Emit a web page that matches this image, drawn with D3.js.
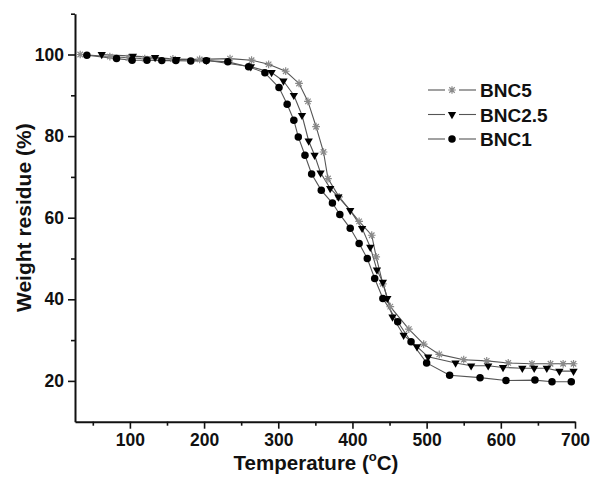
<!DOCTYPE html>
<html>
<head>
<meta charset="utf-8">
<script src="https://cdn.jsdelivr.net/npm/d3@7"></script>
<style>
  body { margin: 0; background: #fff; }
  text { font-family: "Liberation Sans", Arial, sans-serif; font-weight: bold; fill: #111; }
</style>
</head>
<body>
<svg id="chart" width="593" height="480"></svg>
<script>
// Embedded data
const seriesNames = ["BNC5", "BNC2.5", "BNC1"];

const bnc5Temp = [33, 73, 98, 120, 158, 194, 235, 264, 287, 310, 328, 340, 351, 361, 367, 382, 409, 426, 432, 441, 451, 476, 496, 517, 550, 581, 610, 642, 667, 684, 698];
const bnc5Weight = [100, 99.5, 99.2, 99.0, 98.9, 98.8, 99.0, 98.6, 97.6, 95.9, 92.9, 88.5, 82.3, 76.1, 69.6, 65.1, 59.1, 55.7, 50.4, 43.8, 38.2, 32.7, 29.0, 26.5, 25.2, 24.9, 24.4, 24.2, 24.2, 24.2, 24.2];

const bnc25Temp = [62, 104, 134, 163, 203, 263, 291, 307, 321, 332, 341, 349, 357, 370, 381, 397, 413, 424, 433, 441, 447, 454, 469, 487, 502, 539, 560, 583, 603, 629, 645, 662, 679, 698];
const bnc25Weight = [100, 99.6, 99.3, 98.8, 98.6, 97.0, 95.6, 93.5, 90.0, 85.1, 78.8, 75.3, 71.0, 67.2, 65.1, 61.8, 57.4, 52.8, 47.2, 44.2, 40.2, 35.7, 31.2, 28.4, 25.9, 24.4, 23.7, 23.7, 23.3, 23.1, 23.1, 23.1, 22.4, 22.4];

const bnc1Temp = [42, 82, 103, 123, 143, 162, 182, 203, 232, 260, 282, 301, 312, 321, 327, 336, 345, 358, 373, 383, 397, 409, 420, 430, 441, 461, 479, 500, 531, 572, 607, 646, 669, 695];
const bnc1Weight = [99.8, 99.0, 98.6, 98.6, 98.5, 98.5, 98.4, 98.5, 98.2, 97.0, 95.5, 91.9, 87.8, 83.9, 79.8, 75.3, 70.7, 66.7, 63.6, 60.8, 57.4, 53.7, 50.0, 45.1, 40.2, 34.5, 29.6, 24.4, 21.4, 20.8, 20.1, 20.2, 19.8, 19.8];

const xMajor = [100, 200, 300, 400, 500, 600, 700];
const xMinor = [50, 150, 250, 350, 450, 550, 650];
const yMajor = [20, 40, 60, 80, 100];
const yMinor = [30, 50, 70, 90, 110];

const svg = d3.select('#chart');

const x = d3.scaleLinear().domain([26, 700]).range([75, 575]);
const y = d3.scaleLinear().domain([10, 110]).range([421.7, 13.7]);

// custom asterisk symbol
const asterisk = {
  draw(ctx, size) {
    const r = Math.sqrt(size) / 2;
    for (let k = 0; k < 4; k++) {
      const a = k * Math.PI / 4;
      ctx.moveTo(-r * Math.cos(a), -r * Math.sin(a));
      ctx.lineTo(r * Math.cos(a), r * Math.sin(a));
    }
  }
};

const series = [
  { name: seriesNames[0], temp: bnc5Temp, weight: bnc5Weight, symbol: asterisk, size: 60, fill: 'none', stroke: '#8a8a8a', rotate: 0 },
  { name: seriesNames[1], temp: bnc25Temp, weight: bnc25Weight, symbol: d3.symbolTriangle, size: 30, fill: '#000', stroke: 'none', rotate: 180 },
  { name: seriesNames[2], temp: bnc1Temp, weight: bnc1Weight, symbol: d3.symbolCircle, size: 44, fill: '#000', stroke: 'none', rotate: 0 }
];

// axes
svg.append('g').attr('transform', `translate(0,${y.range()[0]})`)
  .call(d3.axisBottom(x).tickValues(xMajor).tickSize(7).tickPadding(5).tickSizeOuter(0));
svg.append('g').attr('transform', `translate(0,${y.range()[0]})`)
  .call(d3.axisBottom(x).tickValues(xMinor).tickSize(4).tickFormat('').tickSizeOuter(0))
  .select('.domain').remove();

svg.append('g').attr('transform', `translate(${x.range()[0]},0)`)
  .call(d3.axisLeft(y).tickValues(yMajor).tickSize(7).tickPadding(4).tickSizeOuter(0));
svg.append('g').attr('transform', `translate(${x.range()[0]},0)`)
  .call(d3.axisLeft(y).tickValues(yMinor).tickSize(4).tickFormat('').tickSizeOuter(0))
  .select('.domain').remove();

svg.selectAll('.domain').attr('stroke', '#111').attr('stroke-width', 2);
svg.selectAll('.tick line').attr('stroke', '#111').attr('stroke-width', 1.6);
svg.selectAll('.tick text').style('font-size', '17.5px').attr('fill', '#111');

// axis titles
const xt = svg.append('text').attr('x', 316).attr('y', 470).attr('text-anchor', 'middle').style('font-size', '20.5px');
xt.append('tspan').text('Temperature (');
xt.append('tspan').text('o').style('font-size', '13px').attr('dy', -9);
xt.append('tspan').text('C)').attr('dy', 9);

svg.append('text')
  .attr('transform', `translate(31,${(y.range()[0] + y.range()[1]) / 2}) rotate(-90)`)
  .attr('text-anchor', 'middle').style('font-size', '21px')
  .text('Weight residue (%)');

// lines and markers
const line = d3.line().x(d => x(d[0])).y(d => y(d[1]));

series.forEach(s => {
  const pts = s.temp.map((t, i) => [t, s.weight[i]]);
  svg.append('path').datum(pts)
    .attr('d', line).attr('fill', 'none')
    .attr('stroke', '#555').attr('stroke-width', 1.1);
});

series.forEach(s => {
  const pts = s.temp.map((t, i) => [t, s.weight[i]]);
  const sym = d3.symbol().type(s.symbol).size(s.size);
  svg.append('g').selectAll('path').data(pts).join('path')
    .attr('transform', d => `translate(${x(d[0])},${y(d[1])}) rotate(${s.rotate})`)
    .attr('d', sym)
    .attr('fill', s.fill).attr('stroke', s.stroke).attr('stroke-width', 1.2);
});

// legend
const legend = svg.append('g');
series.forEach((s, i) => {
  const ly = 90 + i * 24.5;
  legend.append('line').attr('x1', 428).attr('x2', 445).attr('y1', ly).attr('y2', ly)
    .attr('stroke', '#555').attr('stroke-width', 1.1);
  legend.append('line').attr('x1', 459).attr('x2', 476).attr('y1', ly).attr('y2', ly)
    .attr('stroke', '#555').attr('stroke-width', 1.1);
  legend.append('path')
    .attr('transform', `translate(452,${ly}) rotate(${s.rotate})`)
    .attr('d', d3.symbol().type(s.symbol).size(s.size))
    .attr('fill', s.fill).attr('stroke', s.stroke).attr('stroke-width', 1.2);
  legend.append('text').attr('x', 480).attr('y', ly + 7).style('font-size', '19px').text(s.name);
});
</script>
</body>
</html>
